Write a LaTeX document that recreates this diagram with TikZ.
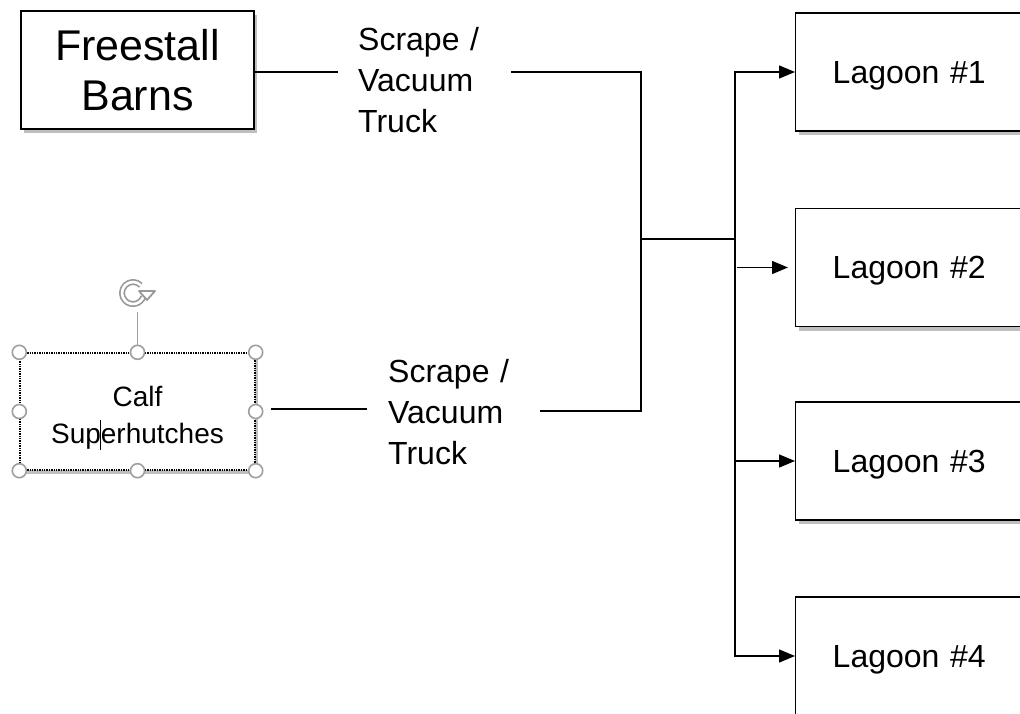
\documentclass[tikz,border=0pt]{standalone}
\usepackage{fontspec}
\setmainfont{Liberation Sans}
\usetikzlibrary{arrows.meta,shadows}

\begin{document}
\begin{tikzpicture}[x=1pt,y=-1pt,line cap=butt,
    box/.style={draw,line width=1.4pt,fill=white,
      drop shadow={shadow xshift=3pt,shadow yshift=-4pt,opacity=0.25,fill=black}},
    lagoon/.style={box,anchor=west,minimum width=260pt,minimum height=118pt,
      inner xsep=37pt,text width=186pt,text depth=0pt,align=left,
      font=\fontsize{32}{38}\selectfont},
    lbl/.style={anchor=west,align=left,inner ysep=0pt,font=\fontsize{32}{41}\selectfont},
    handle/.style={draw=gray!75,line width=1.6pt,fill=white},
    link/.style={line width=1.4pt},
    arr/.style={link,-{Triangle[length=16pt,width=13pt]}}]
  \clip (0,0) rectangle (1020,714);
  \fill[white] (0,0) rectangle (1020,714);
  % sources
  \node[box,minimum width=233pt,minimum height=118pt,align=center,
    font=\fontsize{43}{50}\selectfont] (fb) at (137.5,70) {Freestall\\Barns};
  \node[box,densely dotted,minimum width=235pt,minimum height=117pt,
    font=\fontsize{28}{37}\selectfont] (calf) at (137.5,411.5)
    {\raisebox{-6pt}[\height][\depth]{\begin{tabular}{@{}c@{}}Calf\\
      Sup\makebox[0pt]{\rule[-0.22em]{0.9pt}{1.05em}}erhutches\end{tabular}}};
  \foreach \a in {north west,north,north east,east,south east,south,south west,west}
    \draw[handle] (calf.\a) circle (7pt);
  % rotation handle
  \draw[gray!75,line width=1.4pt] ([yshift=7pt]calf.north) -- ++(0,-33) coordinate (rot);
  \begin{scope}[shift={(133,293)},y=1pt]
    \draw[gray!80,line width=6pt] (45:11) arc (45:340:11);
    \draw[white,line width=2.6pt] (45:11) arc (45:340:11);
    \draw[gray!80,line width=1.8pt,fill=white,line join=round] (6,2) -- (22,2) -- (14,-7) -- cycle;
  \end{scope}
  % truck labels
  \node[lbl,inner xsep=20pt,text width=133pt] (lbl1) at (338,80) {Scrape /\\Vacuum\\Truck};
  \node[lbl,inner xsep=21pt,text width=131pt] (lbl2) at (367,412) {Scrape /\\Vacuum\\Truck};
  % lagoons
  \node[lagoon] (lag1) at (795,72) {Lagoon \#1};
  \node[lagoon] (lag2) at (795,267.5) {Lagoon \#2};
  \node[lagoon] (lag3) at (795,461) {Lagoon \#3};
  \node[lagoon] (lag4) at (795,656) {Lagoon \#4};
  % connectors
  \coordinate (j1) at (641,72);
  \coordinate (j2) at (641,411);
  \coordinate (j) at (641,239);
  \coordinate (tk) at (735,239);
  \draw[link] (fb.east |- j1) -- (lbl1.west |- j1);
  \draw[link] ([xshift=15pt]calf.east |- 0,409) -- (lbl2.west |- 0,409);
  \draw[link] (lbl1.east |- j1) -- (j1) -- (j2) -- (lbl2.east |- j2);
  \draw[link] (j) -- (tk);
  \draw[arr] (tk) |- (lag1.west);
  \draw[arr] (tk) |- (lag4.west);
  \draw[arr] (tk |- lag3.west) -- (lag3.west);
  \draw[arr] ([xshift=2pt]tk |- lag2.west) -- ([xshift=-7pt]lag2.west);
\end{tikzpicture}
\end{document}
